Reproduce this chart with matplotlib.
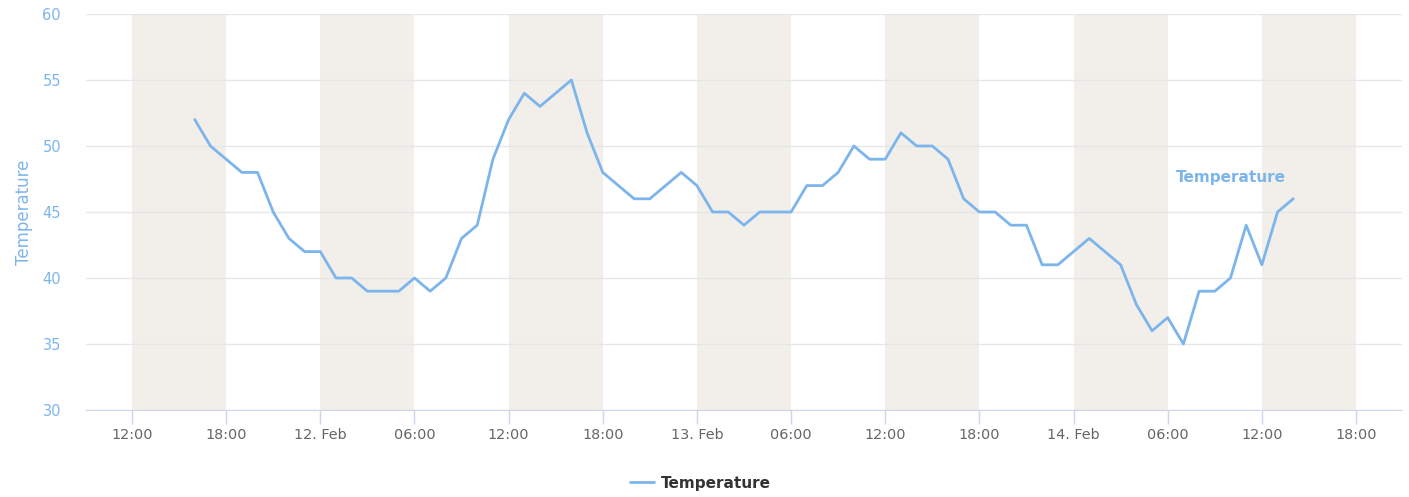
import matplotlib
matplotlib.use("Agg")
import matplotlib.pyplot as plt
import matplotlib.dates as mdates
from datetime import datetime, timedelta

# Hourly readings, 11 Feb 16:00 -> 14 Feb 14:00
start = datetime(2019, 2, 11, 16, 0)
temperature = [
    52, 50, 49, 48, 48, 45, 43, 42,
    42, 40, 40, 39, 39, 39, 40, 39, 40, 43, 44, 49, 52, 54, 53, 54, 55, 51, 48, 47, 46, 46, 47, 48,
    47, 45, 45, 44, 45, 45, 45, 47, 47, 48, 50, 49, 49, 51, 50, 50, 49, 46, 45, 45, 44, 44, 41, 41,
    42, 43, 42, 41, 38, 36, 37, 35, 39, 39, 40, 44, 41, 45, 46,
]
times = [start + timedelta(hours=i) for i in range(len(temperature))]

# shaded bands (start of each 6 h band)
band_starts = [datetime(2019, 2, 11, 12), datetime(2019, 2, 12, 0), datetime(2019, 2, 12, 12),
               datetime(2019, 2, 13, 0), datetime(2019, 2, 13, 12), datetime(2019, 2, 14, 0),
               datetime(2019, 2, 14, 12)]

blue = "#7cb5ec"
plt.rcParams["font.family"] = ["DejaVu Sans"]

fig = plt.figure(figsize=(14.09, 4.97), dpi=100)
ax = fig.add_axes([86 / 1409, 87 / 497, 1316 / 1409, 396 / 497])

for b in band_starts:
    ax.axvspan(b, b + timedelta(hours=6), color="#f2efea", lw=0, zorder=0)

ax.plot(times, temperature, color=blue, lw=2.0, zorder=3, label="Temperature",
        solid_joinstyle="round", solid_capstyle="round")

t0 = datetime(2019, 2, 11, 12)
ax.set_xlim(t0 - timedelta(hours=2.93), t0 + timedelta(hours=80.93))
ax.set_ylim(30, 60)
ax.set_yticks(range(30, 61, 5))
ax.grid(axis="y", color="#e6e6e6", lw=1)
ax.set_axisbelow(True)

ax.xaxis.set_major_locator(mdates.HourLocator(byhour=[0, 6, 12, 18]))
def fmt(x, pos):
    d = mdates.num2date(x)
    if d.hour == 0:
        return f"{d.day}. Feb"
    return d.strftime("%H:%M")
ax.xaxis.set_major_formatter(plt.FuncFormatter(fmt))

for s in ["top", "right", "left"]:
    ax.spines[s].set_visible(False)
ax.spines["bottom"].set_color("#ccd6eb")
ax.tick_params(axis="x", colors="#ccd6eb", length=10, width=1, labelcolor="#666666",
               labelsize=10.4, pad=3)
ax.tick_params(axis="y", length=0, labelcolor=blue, labelsize=10.5, pad=18)
ax.set_ylabel("Temperature", color=blue, fontsize=12, labelpad=7)

ax.text(datetime(2019, 2, 14, 10, 0), 47.6, "Temperature", color=blue, fontsize=11,
        fontweight="bold", ha="center", va="center")

fig.legend(loc="lower center", bbox_to_anchor=(0.497, -0.015), frameon=False,
           prop={"weight": "bold", "size": 11}, handlelength=1.57, handletextpad=0.45,
           labelcolor="#333333")

fig.savefig("out.png", dpi=100)
